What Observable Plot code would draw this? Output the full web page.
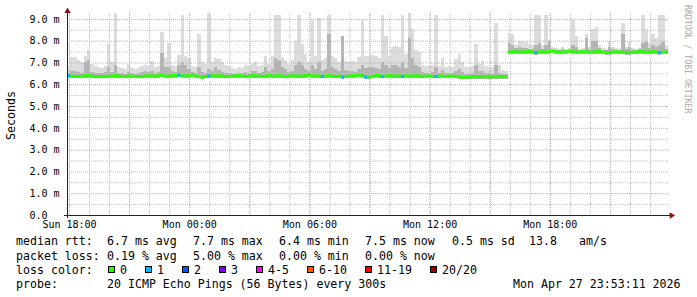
<!DOCTYPE html>
<html><head><meta charset="utf-8">
<script src="https://cdn.jsdelivr.net/npm/d3@7"></script>
<script src="https://cdn.jsdelivr.net/npm/@observablehq/plot@0.6"></script>
<style>
body{margin:0;background:#fff;}
#wrap{position:relative;width:697px;height:297px;overflow:hidden;background:#fff;font-family:"DejaVu Sans Mono",monospace;}
#wrap svg{position:absolute;left:0;top:0;}
.t{position:absolute;font-size:11.6px;line-height:14px;white-space:pre;color:#000;}
.box{position:absolute;width:6px;height:6px;border:1px solid #000;}
</style></head><body><div id="wrap"></div>
<script>
// 10-minute bins, Sun 17:54 .. Mon 23:54 (180 bins)
const hi = [
6.8,7.25,7.25,7.1,7.0,7.3,7.55,6.95,6.85,6.8,
6.75,6.85,7.85,7.0,9.27,6.8,6.75,6.7,6.95,6.75,
6.7,6.75,6.85,6.9,6.85,7.05,6.8,6.85,8.4,7.2,
7.9,6.9,6.85,7.35,9.2,7.3,7.2,6.85,6.8,8.3,
7.0,6.95,9.27,7.0,7.2,7.15,7.0,6.9,6.85,6.75,
6.7,6.8,6.75,6.9,6.85,6.95,7.0,6.85,6.9,7.3,
6.95,7.3,9.2,9.2,7.25,7.1,6.95,7.1,8.0,9.2,
7.85,7.4,7.0,8.95,7.3,9.05,7.1,7.2,9.2,7.3,
7.2,7.0,8.2,7.05,7.0,7.05,7.0,7.25,9.0,7.3,
7.3,7.35,7.3,7.2,9.2,8.2,7.3,7.7,7.75,7.7,
9.2,7.4,9.27,8.55,7.55,7.5,6.9,6.85,6.85,6.9,
9.2,6.85,7.2,6.8,6.85,6.8,7.15,7.4,7.0,6.8,
6.8,6.85,7.85,6.95,7.05,6.85,6.8,6.8,8.8,6.9,
6.65,6.6,8.35,8.3,7.8,8.0,8.0,7.95,7.85,7.8,
9.2,9.2,7.8,9.2,8.05,7.7,7.65,7.6,7.7,7.6,
7.65,8.95,8.2,7.6,7.65,8.3,7.7,8.55,8.65,7.8,
7.65,7.6,8.0,7.7,7.65,7.6,8.8,7.7,7.95,7.65,
7.6,7.65,9.2,8.55,7.9,8.3,8.1,9.2,9.2,7.8];
const mid = [
6.5,6.6,6.6,6.55,6.5,7.0,7.1,6.55,6.5,6.5,
6.5,6.55,6.8,6.55,6.9,6.5,6.5,6.48,6.55,6.5,
6.48,6.5,6.55,6.6,6.55,6.6,6.5,6.55,7.45,6.8,
6.8,6.6,6.55,6.9,7.0,6.9,6.7,6.55,6.5,6.8,
6.55,6.5,6.7,6.6,6.8,6.65,6.55,6.5,6.5,6.48,
6.48,6.5,6.5,6.55,6.5,6.6,6.6,6.5,6.55,6.8,
6.6,6.7,7.2,7.1,6.8,6.7,6.55,6.6,6.9,7.0,
6.9,6.7,6.6,6.9,6.7,7.0,6.6,6.7,8.3,6.8,
6.7,6.6,8.2,6.65,6.6,6.6,6.55,6.7,6.9,6.75,
6.8,6.8,6.75,6.7,7.0,6.9,6.75,6.9,6.9,6.8,
7.0,6.75,8.1,7.2,6.9,6.8,6.55,6.5,6.5,6.55,
6.8,6.5,6.65,6.5,6.5,6.5,6.6,6.7,6.55,6.48,
6.48,6.5,6.9,6.6,6.6,6.5,6.5,6.48,6.9,6.5,
6.45,6.45,7.9,7.8,7.65,7.7,7.65,7.65,7.6,7.6,
7.8,7.9,7.6,7.8,8.0,7.6,7.58,7.58,7.6,7.58,
7.58,7.8,7.7,7.58,7.58,8.1,7.6,8.0,8.0,7.65,
7.58,7.58,7.7,7.6,7.58,7.58,8.3,7.6,7.7,7.58,
7.58,7.6,7.9,7.95,7.65,7.8,7.7,7.8,7.95,7.6];
const med = [
6.42,6.40,6.38,6.38,6.40,6.40,6.42,6.40,6.38,6.38,
6.37,6.38,6.40,6.40,6.42,6.40,6.38,6.38,6.40,6.40,
6.38,6.37,6.37,6.40,6.42,6.40,6.40,6.42,6.44,6.40,
6.40,6.42,6.42,6.44,6.42,6.40,6.42,6.44,6.40,6.38,
6.33,6.38,6.40,6.42,6.40,6.42,6.40,6.38,6.38,6.40,
6.40,6.42,6.40,6.38,6.40,6.42,6.40,6.40,6.38,6.40,
6.42,6.40,6.40,6.42,6.40,6.38,6.40,6.42,6.40,6.40,
6.40,6.42,6.44,6.42,6.40,6.40,6.38,6.40,6.42,6.40,
6.38,6.40,6.36,6.38,6.40,6.42,6.42,6.44,6.42,6.36,
6.36,6.38,6.42,6.42,6.38,6.40,6.42,6.40,6.40,6.40,
6.38,6.42,6.40,6.40,6.42,6.40,6.38,6.40,6.40,6.38,
6.38,6.40,6.40,6.38,6.40,6.40,6.38,6.36,6.33,6.35,
6.36,6.36,6.36,6.37,6.37,6.37,6.36,6.37,6.37,6.37,
6.37,6.37,7.50,7.52,7.52,7.50,7.50,7.52,7.52,7.50,
7.48,7.50,7.52,7.50,7.52,7.54,7.52,7.50,7.50,7.52,
7.54,7.52,7.50,7.50,7.52,7.52,7.50,7.50,7.52,7.52,
7.50,7.48,7.48,7.50,7.52,7.50,7.50,7.48,7.48,7.50,
7.50,7.52,7.52,7.50,7.50,7.52,7.50,7.48,7.50,7.50];
const lo = [
6.3,6.3,6.28,6.28,6.3,6.3,6.3,6.28,6.28,6.28,
6.27,6.28,6.3,6.3,6.3,6.3,6.28,6.28,6.3,6.3,
6.28,6.27,6.27,6.3,6.3,6.3,6.3,6.3,6.32,6.3,
6.3,6.3,6.3,6.32,6.3,6.3,6.3,6.32,6.3,6.28,
6.22,6.28,6.3,6.3,6.3,6.3,6.3,6.28,6.28,6.3,
6.3,6.3,6.3,6.28,6.3,6.3,6.3,6.3,6.28,6.3,
6.3,6.3,6.3,6.3,6.3,6.28,6.3,6.3,6.3,6.3,
6.3,6.3,6.32,6.3,6.3,6.3,6.28,6.3,6.3,6.3,
6.28,6.3,6.25,6.28,6.3,6.3,6.3,6.32,6.3,6.25,
6.25,6.28,6.3,6.3,6.28,6.3,6.3,6.3,6.3,6.3,
6.28,6.3,6.3,6.3,6.3,6.3,6.28,6.3,6.3,6.28,
6.28,6.3,6.3,6.28,6.3,6.3,6.28,6.26,6.22,6.24,
6.25,6.25,6.25,6.26,6.26,6.26,6.25,6.26,6.26,6.26,
6.26,6.26,7.38,7.4,7.4,7.38,7.38,7.4,7.4,7.38,
7.36,7.38,7.4,7.38,7.4,7.42,7.4,7.38,7.38,7.4,
7.42,7.4,7.38,7.38,7.4,7.4,7.38,7.38,7.4,7.4,
7.38,7.36,7.36,7.38,7.4,7.38,7.38,7.36,7.36,7.38,
7.38,7.4,7.4,7.38,7.38,7.4,7.38,7.36,7.38,7.38];
// bins with packet loss (count of lost pings)
const lossBins = [0,33,42,76,82,89,94,100,110,140,177];
const lossCounts = [1,1,1,1,1,1,1,1,1,1,1];
// legend
const lossCats = ["0","1","2","3","4-5","6-10","11-19","20/20"];
const lossColors = ["#26ff00","#00b8ff","#0059ff","#7e00ff","#ff00ff","#ff5500","#ff0000","#a10000"];
const rowLabels = ["median rtt:","packet loss:","loss color:","probe:"];
const rttStats = ["6.7 ms avg","7.7 ms max","6.4 ms min","7.5 ms now","0.5 ms sd","13.8","am/s"];
const lossStats = ["0.19 % avg","5.00 % max","0.00 % min","0.00 % now"];
const probeText = "20 ICMP Echo Pings (56 Bytes) every 300s";
const stamp = "Mon Apr 27 23:53:11 2026";
const yTicks = [0,1,2,3,4,5,6,7,8,9];

const start = new Date(2026, 3, 26, 17, 54);
const end = new Date(2026, 3, 27, 23, 54);
const STEP = 10 * 60 * 1000;
const lossOf = new Map(lossBins.map((b, k) => [b, lossCounts[k]]));
function lossColor(n) {
  if (n === 0) return lossColors[0];
  if (n <= 3) return lossColors[n];
  if (n <= 5) return lossColors[4];
  if (n <= 10) return lossColors[5];
  if (n <= 19) return lossColors[6];
  return lossColors[7];
}
const data = hi.map((h, i) => ({
  t0: new Date(+start + i * STEP), t1: new Date(+start + (i + 1) * STEP),
  lo: lo[i], mid: mid[i], hi: h, med: med[i], col: lossColor(lossOf.get(i) || 0)
}));

const MIN = 60000;
const chart = Plot.plot({
  width: 697, height: 232,
  marginLeft: 67, marginRight: 29, marginTop: 13, marginBottom: 17,
  style: {fontFamily: "'DejaVu Sans Mono', monospace", fontSize: "10px", background: "transparent", color: "#000"},
  x: {type: "time", domain: [start, end]},
  y: {domain: [0, 9.27]},
  color: {type: "identity"},
  marks: [
    Plot.rect(data, {x1: "t0", x2: "t1", y1: "lo", y2: "hi", fill: "#dcdcdc", shapeRendering: "crispEdges"}),
    Plot.rect(data, {x1: "t0", x2: "t1", y1: "lo", y2: "mid", fill: "#b4b4b4", shapeRendering: "crispEdges"}),
    Plot.gridX({ticks: d3.timeHour.every(1), stroke: "#c4c4c4", strokeOpacity: 1, strokeDasharray: "1,1"}),
    Plot.gridY({ticks: d3.range(0.5, 9.5, 1), stroke: "#c4c4c4", strokeOpacity: 1, strokeDasharray: "1,1"}),
    Plot.gridX({ticks: d3.timeHour.every(3), stroke: "#e6a0a0", strokeOpacity: 1, strokeDasharray: "1,1"}),
    Plot.gridY({ticks: d3.range(1, 10), stroke: "#e6a0a0", strokeOpacity: 1, strokeDasharray: "1,1"}),
    Plot.ruleY(data, {y: "med", x1: "t0", x2: "t1", stroke: "col", strokeWidth: 3}),
    Plot.ruleY([{y: 0, a: new Date(+start - 9 * MIN), b: new Date(+end + 6 * MIN)}], {y: "y", x1: "a", x2: "b", stroke: "#222"}),
    Plot.ruleX([{x: start, a: -0.14, b: 9.36}], {x: "x", y1: "a", y2: "b", stroke: "#222"}),
    Plot.dot([{x: new Date(+end + 9 * MIN), y: 0}], {x: "x", y: "y", symbol: "triangle2", r: 3, rotate: 90, fill: "#8b1010", stroke: null}),
    Plot.dot([{x: start, y: 9.38}], {x: "x", y: "y", symbol: "triangle2", r: 3, fill: "#8b1010", stroke: null}),
    Plot.axisX({ticks: d3.timeHour.every(6), tickFormat: d3.timeFormat("%a %H:%M"), tickSize: 0, tickPadding: 5, label: null, fontSize: 10}),
    Plot.axisY({ticks: yTicks, tickFormat: d => d === 0 ? "0.0" : d.toFixed(1) + " m", tickSize: 0, tickPadding: 38, textAnchor: "start", label: null, fontSize: 10})
  ]
});
const wrap = document.getElementById("wrap");
wrap.appendChild(chart);

function put(x, yc, s, cls) {
  const d = document.createElement("div");
  d.className = cls || "t";
  d.style.left = x + "px"; d.style.top = (yc - 7) + "px";
  d.textContent = s; wrap.appendChild(d); return d;
}
const rows = [241, 255.5, 269.5, 284];
rowLabels.forEach((s, k) => put(16, rows[k], s));
[107, 193, 279, 365, 452, 529, 579].forEach((x, k) => put(x, rows[0], rttStats[k]));
[107, 193, 279, 365].forEach((x, k) => put(x, rows[1], lossStats[k]));
let bx = 108;
lossCats.forEach((c, k) => {
  const b = document.createElement("div");
  b.className = "box"; b.style.left = bx + "px"; b.style.top = (rows[2] - 4) + "px";
  b.style.width = "5px"; b.style.height = "5px";
  b.style.background = lossColors[k]; wrap.appendChild(b);
  put(bx + 12, rows[2], c);
  bx += 11 + c.length * 7 + 19;
});
put(107, rows[3], probeText);
put(513, rows[3], stamp);

const yl = document.createElement("div");
yl.className = "t";
yl.style.cssText += "writing-mode:vertical-rl;transform:rotate(180deg);left:4px;top:91px;";
yl.textContent = "Seconds"; wrap.appendChild(yl);
const wm = document.createElement("div");
wm.style.cssText = "position:absolute;left:683px;top:5px;writing-mode:vertical-rl;font-size:8.2px;line-height:10px;color:#a8a8a8;white-space:pre;font-family:'DejaVu Sans Mono',monospace;";
wm.textContent = "RRDTOOL / TOBI OETIKER"; wrap.appendChild(wm);
</script></body></html>
